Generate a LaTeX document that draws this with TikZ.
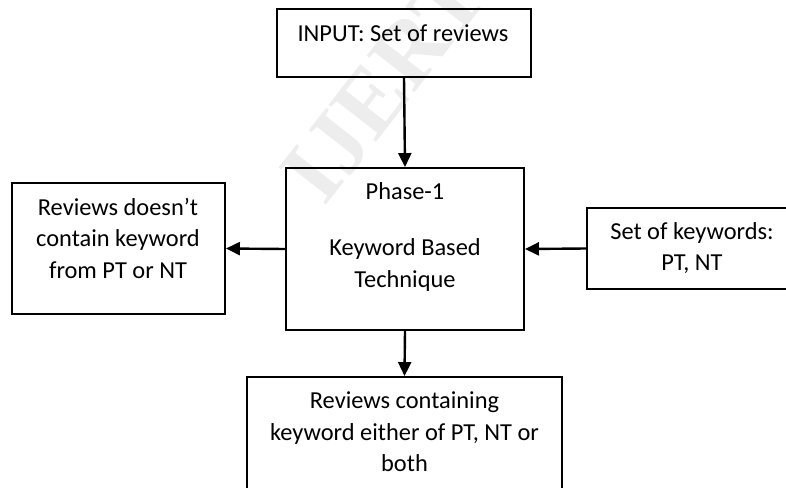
\documentclass[tikz,border=0pt]{standalone}
\usepackage{fontspec}
\setmainfont{Carlito}
\newfontfamily\wmfont{Liberation Serif}
\usetikzlibrary{arrows.meta}

\tikzset{
  box/.style={draw=black, line width=1.9pt, rectangle, inner sep=0pt},
  txt/.style={align=center, inner sep=0pt, font=\fontsize{24.4}{31.5}\selectfont},
  flow/.style={line width=2.4pt, -{Triangle[length=14pt,width=13pt]}},
  wmark/.style={text=gray!14, font=\fontsize{92}{92}\selectfont\wmfont\bfseries, rotate=52, inner sep=0pt}
}

\begin{document}
\begin{tikzpicture}[x=1pt, y=-1pt]
  \useasboundingbox (0,0) rectangle (786,487);
  \clip (0,0) rectangle (786,487);

  % faint publisher mark behind the chart
  \node[wmark] (wm) at (384,84) {IJERT};

  % boxes
  \node[box, minimum width=254pt, minimum height=68pt] (input) at (404,43) {};
  \node[box, minimum width=238pt, minimum height=162pt] (phase) at (405,249) {};
  \node[box, minimum width=213pt, minimum height=131pt] (notkw) at (118.5,248.5) {};
  \node[box, minimum width=212pt, minimum height=81pt] (kwset) at (693,248.5) {};
  \node[box, minimum width=315pt, minimum height=140pt] (haskw) at (404.5,447) {};

  % box texts
  \node[txt] (tinput) at (403,33) {INPUT: Set of reviews};
  \node[txt] (tphase) at (405,191) {Phase-1};
  \node[txt] (ttech)  at (405,265) {Keyword Based\\Technique};
  \node[txt] (tnotkw) at (118,238) {Reviews doesn’t\\contain keyword\\from PT or NT};
  \node[txt] (tkwset) at (692,248) {Set of keywords:\\PT, NT};
  \node[txt] (thaskw) at (404.5,432) {Reviews containing\\keyword either of PT, NT or\\both};

  % connectors
  \draw[flow] (input.south) -- (phase.north);
  \draw[flow] (phase.west) -- (notkw.east);
  \draw[flow] (kwset.west) -- (phase.east);
  \draw[flow] (phase.south) -- (haskw.north);
\end{tikzpicture}
\end{document}
